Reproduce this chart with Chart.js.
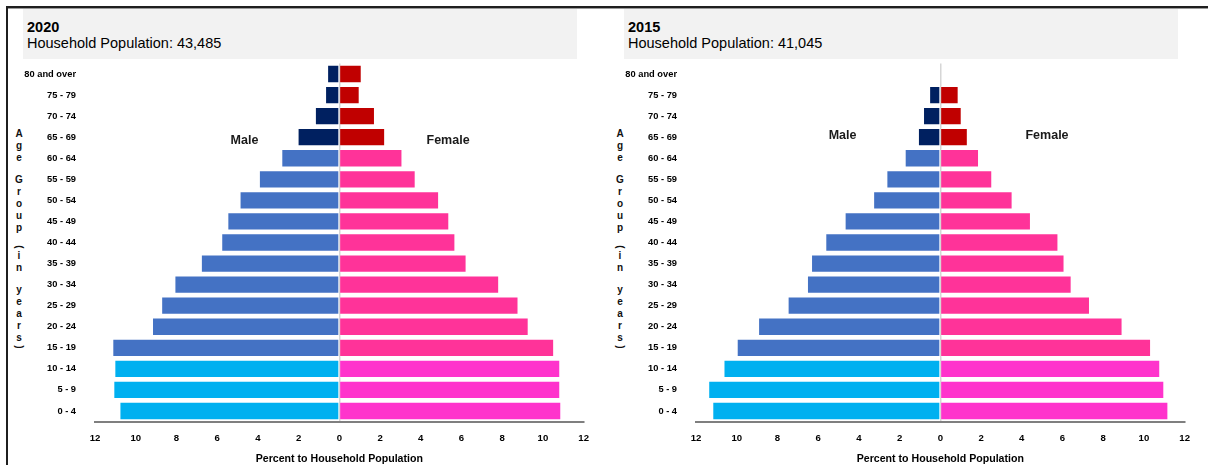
<!DOCTYPE html>
<html lang="en">
<head>
    <meta charset="UTF-8">
    <title>Household Population by Age Group and Sex</title>
    <script src="https://cdn.jsdelivr.net/npm/chart.js"></script>
    <style>
        body {
            margin: 0;
            width: 1208px;
            height: 465px;
            overflow: hidden;
            background: #fff;
            font-family: 'Liberation Sans', Arial, sans-serif;
            position: relative;
        }

        .frame-top {
            position: absolute;
            left: 6px;
            top: 6px;
            width: 1202px;
            height: 2px;
            background: #1f1f1f;
            border-bottom: 1px solid #9a9a9a;
        }

        .frame-left {
            position: absolute;
            left: 6px;
            top: 6px;
            width: 2px;
            height: 459px;
            background: #1f1f1f;
        }

        .header {
            position: absolute;
            top: 9px;
            width: 550px;
            height: 40px;
            padding: 10px 0 0 4px;
            background: #f2f2f2;
            color: #000;
            font-size: 14.5px;
            line-height: 16px;
        }

        .header b {
            display: block;
        }

        .panel {
            position: absolute;
            top: 60px;
        }

        .age-title {
            position: absolute;
            top: 128px;
            width: 14px;
            font-size: 10px;
            font-weight: bold;
            color: #111;
            text-align: center;
        }

        .age-title span {
            display: block;
            height: 12px;
            line-height: 12px;
        }

        .age-title span.sp {
            height: 10px;
        }

        .age-title span.par {
            height: 6px;
            line-height: 6px;
            transform: rotate(90deg);
        }
    </style>
</head>
<body>
    <div class="frame-top"></div>
    <div class="frame-left"></div>

    <div class="header" style="left: 23px;">
        <b>2020</b>
        Household Population: 43,485
    </div>
    <div class="header" style="left: 624px;">
        <b>2015</b>
        Household Population: 41,045
    </div>

    <div class="age-title" style="left: 12px;"></div>
    <div class="age-title" style="left: 613px;"></div>

    <canvas id="pyr2020" class="panel" width="600" height="405" style="left: 0px;"></canvas>
    <canvas id="pyr2015" class="panel" width="600" height="405" style="left: 601px;"></canvas>

    <script>
        // age groups, top row first
        const ageGroups = ['80 and over', '75 - 79', '70 - 74', '65 - 69', '60 - 64', '55 - 59',
            '50 - 54', '45 - 49', '40 - 44', '35 - 39', '30 - 34', '25 - 29', '20 - 24',
            '15 - 19', '10 - 14', '5 - 9', '0 - 4'];

        // percent to household population
        const male2020 = [0.6, 0.7, 1.2, 2.05, 2.85, 3.95, 4.9, 5.5, 5.8, 6.8, 8.1, 8.75, 9.2, 11.15, 11.05, 11.1, 10.8];
        const female2020 = [1.1, 1.0, 1.75, 2.25, 3.1, 3.75, 4.9, 5.4, 5.7, 6.25, 7.85, 8.8, 9.3, 10.55, 10.85, 10.85, 10.9];
        const male2015 = [0, 0.55, 0.85, 1.1, 1.75, 2.65, 3.3, 4.7, 5.65, 6.35, 6.55, 7.5, 8.95, 10.0, 10.65, 11.4, 11.2];
        const female2015 = [0, 0.9, 1.05, 1.35, 1.9, 2.55, 3.55, 4.45, 5.8, 6.1, 6.45, 7.35, 8.95, 10.35, 10.8, 11.0, 11.2];

        const axisTitle = 'Percent to Household Population';
        const ageAxisTitle = 'Age Group (in years)';

        const FONT = "'Liberation Sans', Arial, sans-serif";

        // 65+ / 15-64 / 0-14 colours
        const maleColors = { old: '#002060', work: '#4472c4', young: '#00b0f0' };
        const femaleColors = { old: '#c00000', work: '#ff3399', young: '#ff33cc' };

        function band(label) {
            const low = parseInt(label, 10);
            if (low >= 65) return 'old';
            if (low >= 15) return 'work';
            return 'young';
        }

        // stacked letters for the age axis title
        document.querySelectorAll('.age-title').forEach(el => {
            for (const ch of ageAxisTitle) {
                const s = document.createElement('span');
                if (ch === ' ') s.className = 'sp';
                else if (ch === '(' || ch === ')') s.className = 'par';
                s.textContent = ch === ' ' ? '' : ch;
                el.appendChild(s);
            }
        });

        const sexLabels = {
            id: 'sexLabels',
            afterDatasetsDraw(chart, args, opts) {
                const { ctx, scales: { x, y } } = chart;
                ctx.save();
                ctx.font = 'bold 12.5px ' + FONT;
                ctx.fillStyle = '#1a1a1a';
                ctx.textAlign = 'center';
                ctx.textBaseline = 'middle';
                opts.items.forEach(it => {
                    ctx.fillText(it.text, x.getPixelForValue(it.x), y.getPixelForValue(it.row));
                });
                ctx.restore();
            }
        };

        function makePyramid(id, male, female, labelItems) {
            const ctx = document.getElementById(id).getContext('2d');
            return new Chart(ctx, {
                type: 'bar',
                data: {
                    labels: ageGroups,
                    datasets: [{
                        label: 'Male',
                        data: male.map(v => v ? -v : null),
                        backgroundColor: ageGroups.map(a => maleColors[band(a)]),
                        borderColor: 'rgba(255,255,255,0.45)',
                        borderWidth: 1
                    }, {
                        label: 'Female',
                        data: female.map(v => v ? v : null),
                        backgroundColor: ageGroups.map(a => femaleColors[band(a)]),
                        borderColor: 'rgba(255,255,255,0.45)',
                        borderWidth: 1
                    }]
                },
                options: {
                    indexAxis: 'y',
                    responsive: false,
                    animation: false,
                    datasets: {
                        bar: { categoryPercentage: 1, barPercentage: 0.87 }
                    },
                    layout: { padding: { top: 3.5, right: 13, left: 0, bottom: 0 } },
                    plugins: {
                        legend: { display: false },
                        tooltip: { enabled: false },
                        sexLabels: { items: labelItems }
                    },
                    scales: {
                        x: {
                            type: 'linear',
                            min: -12,
                            max: 12,
                            stacked: true,
                            z: 1,
                            afterFit: s => { s.height = 43.5; },
                            grid: {
                                drawTicks: false,
                                lineWidth: 1.5,
                                color: c => (c.tick && c.tick.value === 0) ? '#d6d6d6' : 'rgba(0,0,0,0)'
                            },
                            border: { display: true, color: '#7f7f7f', width: 2 },
                            ticks: {
                                stepSize: 2,
                                padding: 11,
                                color: '#000',
                                font: { family: FONT, size: 9.6, weight: 'bold' },
                                callback: v => Math.abs(v)
                            },
                            title: {
                                display: true,
                                text: axisTitle,
                                color: '#000',
                                padding: { top: 0, bottom: 0 },
                                font: { family: FONT, size: 10.6, weight: 'bold' }
                            }
                        },
                        y: {
                            stacked: true,
                            afterFit: s => {
                                s.width = 95;
                                s.paddingTop = 0;
                                s.paddingBottom = 0;
                            },
                            grid: { display: false, drawTicks: false },
                            border: { display: false },
                            ticks: {
                                autoSkip: false,
                                padding: 19,
                                color: '#000',
                                font: { family: FONT, size: 9.3, weight: 'bold' }
                            }
                        }
                    }
                },
                plugins: [sexLabels]
            });
        }

        makePyramid('pyr2020', male2020, female2020, [
            { text: 'Male', x: -4.66, row: 3.18 },
            { text: 'Female', x: 5.34, row: 3.18 }
        ]);
        makePyramid('pyr2015', male2015, female2015, [
            { text: 'Male', x: -4.8, row: 2.9 },
            { text: 'Female', x: 5.24, row: 2.9 }
        ]);
    </script>
</body>
</html>
